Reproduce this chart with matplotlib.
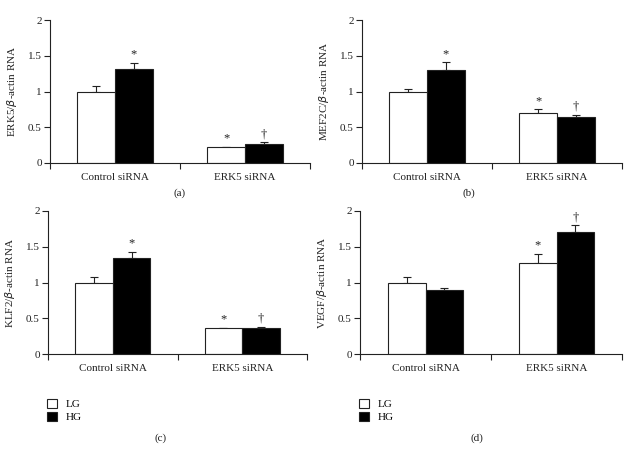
import numpy as np
import matplotlib
matplotlib.use("Agg")
from matplotlib import pyplot as plt
from matplotlib.patches import Patch

plt.rcParams["font.family"] = ["Liberation Serif", "DejaVu Serif"]
plt.rcParams["font.size"] = 8

groups = ["Control siRNA", "ERK5 siRNA"]
series = ["LG", "HG"]

erk5_lg = [1.00, 0.22]
erk5_lg_err = [0.08, 0.01]
erk5_hg = [1.31, 0.26]
erk5_hg_err = [0.09, 0.03]

mef2c_lg = [1.00, 0.70]
mef2c_lg_err = [0.04, 0.05]
mef2c_hg = [1.30, 0.65]
mef2c_hg_err = [0.11, 0.02]

klf2_lg = [1.00, 0.36]
klf2_lg_err = [0.07, 0.01]
klf2_hg = [1.34, 0.36]
klf2_hg_err = [0.09, 0.02]

vegf_lg = [1.00, 1.27]
vegf_lg_err = [0.07, 0.13]
vegf_hg = [0.90, 1.70]
vegf_hg_err = [0.03, 0.10]

# significance marks per panel: (LG control, HG control, LG ERK5, HG ERK5)
marks_a = ["", "*", "*", "\u2020"]
marks_b = ["", "*", "*", "\u2020"]
marks_c = ["", "*", "*", "\u2020"]
marks_d = ["", "", "*", "\u2020"]

ylabels = [r"ERK5/$\beta$-actin RNA", r"MEF2C/$\beta$-actin RNA",
           r"KLF2/$\beta$-actin RNA", r"VEGF/$\beta$-actin RNA"]
panel_tags = ["(a)", "(b)", "(c)", "(d)"]
yticks = [0, 0.5, 1, 1.5, 2]
ytick_labels = ["0", "0.5", "1", "1.5", "2"]

ink = "#222222"
W, H = 641, 453
fig = plt.figure(figsize=(W / 100, H / 100), dpi=100)


def px_axes(left, right, top, bottom):
    return fig.add_axes([left / W, 1 - bottom / H, (right - left) / W, (bottom - top) / H])


def draw_panel(ax, lg, lg_err, hg, hg_err, marks, ylabel):
    centers = np.array([0.5, 1.5])
    width = 0.29
    x_lg = centers - width / 2
    x_hg = centers + width / 2
    ax.bar(x_lg, lg, width, color="white", edgecolor=ink, linewidth=0.8, zorder=2)
    ax.bar(x_hg, hg, width, color="black", edgecolor=ink, linewidth=0.8, zorder=2)
    for x, v, e in list(zip(x_lg, lg, lg_err)) + list(zip(x_hg, hg, hg_err)):
        ax.errorbar([x], [v], yerr=[[0], [e]], fmt="none", ecolor=ink,
                    elinewidth=0.8, capsize=3, capthick=0.8, zorder=1)
    tops = [lg[0] + lg_err[0], hg[0] + hg_err[0], lg[1] + lg_err[1], hg[1] + hg_err[1]]
    xs = [x_lg[0], x_hg[0], x_lg[1], x_hg[1]]
    for x, t, m in zip(xs, tops, marks):
        if m:
            ax.text(x, t + 0.03, m, ha="center", va="bottom", fontsize=9, color=ink)
    ax.set_xlim(0, 2)
    ax.set_ylim(0, 2)
    ax.set_yticks(yticks)
    ax.set_yticklabels(ytick_labels)
    ax.set_xticks([0, 1, 2])
    ax.set_xticklabels(["", "", ""])
    ax.set_xticks(centers, minor=True)
    ax.set_xticklabels(groups, minor=True)
    ax.tick_params(axis="x", which="minor", length=0, pad=7, colors=ink)
    ax.tick_params(axis="x", which="major", length=4, direction="out", colors=ink)
    ax.tick_params(axis="y", length=4, direction="out", colors=ink, pad=2)
    for s in ["top", "right"]:
        ax.spines[s].set_visible(False)
    for s in ["left", "bottom"]:
        ax.spines[s].set_color(ink)
        ax.spines[s].set_linewidth(0.8)
    ax.set_ylabel(ylabel, color=ink, labelpad=6)
    ax.patch.set_visible(False)


ax_a = px_axes(50, 310, 20, 163)
ax_b = px_axes(362, 622, 20, 163)
ax_c = px_axes(48, 307, 211, 354)
ax_d = px_axes(360, 622, 211, 354)

draw_panel(ax_a, erk5_lg, erk5_lg_err, erk5_hg, erk5_hg_err, marks_a, ylabels[0])
draw_panel(ax_b, mef2c_lg, mef2c_lg_err, mef2c_hg, mef2c_hg_err, marks_b, ylabels[1])
draw_panel(ax_c, klf2_lg, klf2_lg_err, klf2_hg, klf2_hg_err, marks_c, ylabels[2])
draw_panel(ax_d, vegf_lg, vegf_lg_err, vegf_hg, vegf_hg_err, marks_d, ylabels[3])

fig.text(180 / W, 1 - 193 / H, panel_tags[0], ha="center", va="center", color=ink)
fig.text(469 / W, 1 - 193 / H, panel_tags[1], ha="center", va="center", color=ink)
fig.text(161 / W, 1 - 438 / H, panel_tags[2], ha="center", va="center", color=ink)
fig.text(477 / W, 1 - 438 / H, panel_tags[3], ha="center", va="center", color=ink)

handles = [Patch(facecolor="white", edgecolor=ink, linewidth=0.8),
           Patch(facecolor="black", edgecolor=ink, linewidth=0.8)]
for x0 in [47, 359]:
    fig.legend(handles, series, loc="upper left", bbox_to_anchor=(x0 / W, 1 - 399 / H),
               frameon=False, handlelength=0.9, handleheight=0.9, handletextpad=0.8,
               labelspacing=0.2, borderpad=0, borderaxespad=0, fontsize=8)

fig.savefig("out.png", dpi=100)
